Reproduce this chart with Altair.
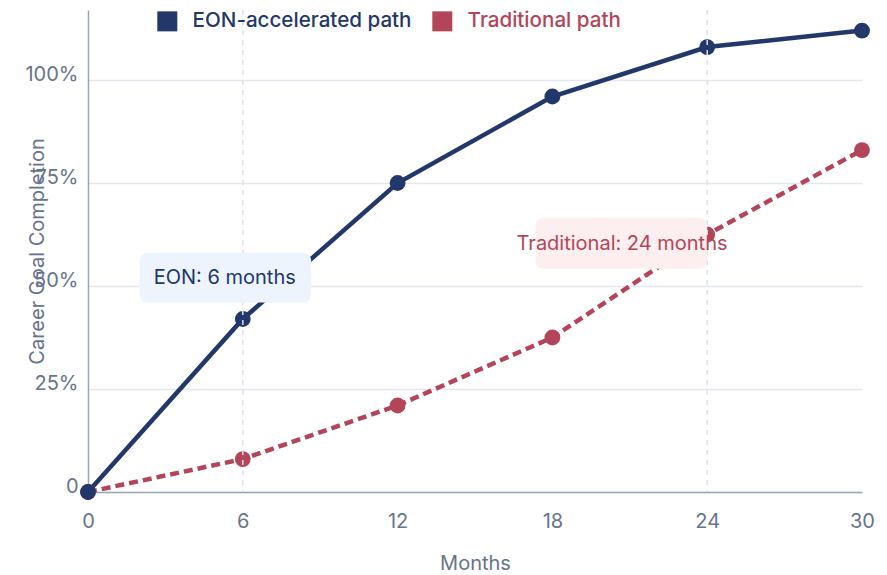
import altair as alt
import pandas as pd

months = [0, 6, 12, 18, 24, 30]
eon_values = [0.0, 0.42, 0.75, 0.96, 1.08, 1.12]
trad_values = [0.0, 0.08, 0.21, 0.375, 0.625, 0.83]
series_names = ["EON-accelerated path", "Traditional path"]
series_colors = ["#22376a", "#b3455a"]
x_ticks = [0, 6, 12, 18, 24, 30]
y_ticks = [0, 0.25, 0.5, 0.75, 1.0]
rule_months = [6, 24]

ann_labels = ["EON: 6 months", "Traditional: 24 months"]
ann_x = [5.3, 20.7]
ann_y = [0.52, 0.603]
box_x0 = [2.0, 17.35]
box_x1 = [8.65, 24.0]
box_y0 = [0.46, 0.542]
box_y1 = [0.581, 0.666]
box_fill = ["#edf4fd", "#fdefef"]
ann_color = ["#22376a", "#b3455a"]

NAVY, RED = series_colors
FS = 20

rows = []
for m, v in zip(months, trad_values):
    rows.append({"month": m, "value": v, "series": series_names[1]})
for m, v in zip(months, eon_values):
    rows.append({"month": m, "value": v, "series": series_names[0]})
df = pd.DataFrame(rows)

ann = pd.DataFrame({
    "label": ann_labels, "x": ann_x, "y": ann_y,
    "x0": box_x0, "x1": box_x1, "y0": box_y0, "y1": box_y1,
    "fill": box_fill, "color": ann_color,
})
rules = pd.DataFrame({"month": rule_months})

xs = alt.Scale(domain=[0, 30], nice=False, zero=False)
ys = alt.Scale(domain=[0, 1.17], nice=False)

x_enc = alt.X("month:Q", scale=xs, title="Months",
              axis=alt.Axis(values=x_ticks, grid=False, ticks=False, tickSize=0,
                            labelPadding=35, labelBaseline="alphabetic", labelFlush=False,
                            titleBaseline="alphabetic", titleY=77))
y_enc = alt.Y("value:Q", scale=ys, title="Career Goal Completion",
              axis=alt.Axis(values=y_ticks, ticks=False, tickSize=0,
                            labelPadding=10, labelBaseline="alphabetic",
                            labelExpr="datum.value == 0 ? '0' : format(datum.value, '.0%')",
                            titleX=-41, titleY=241, titleAlign="center",
                            titleBaseline="bottom", titleAngle=-90))

base = alt.Chart(df)

line_eon = base.transform_filter(alt.datum.series == series_names[0]).mark_line(
    color=NAVY, strokeWidth=4.5).encode(x=x_enc, y=y_enc)
line_trad = base.transform_filter(alt.datum.series == series_names[1]).mark_line(
    color=RED, strokeWidth=4.5, strokeDash=[9, 5]).encode(x=x_enc, y=y_enc)

points = base.mark_circle(size=250, opacity=1).encode(
    x=x_enc, y=y_enc,
    color=alt.Color("series:N",
                    scale=alt.Scale(domain=series_names, range=series_colors),
                    sort=series_names,
                    legend=alt.Legend(
                        title=None, orient="none", legendX=69, legendY=1,
                        direction="horizontal", symbolType="square",
                        symbolSize=400, symbolStrokeWidth=0, labelFontSize=20.6,
                        labelFontWeight=500,
                        labelOffset=15, columnPadding=20, padding=0, labelLimit=0,
                        labelColor=alt.ExprRef(
                            f"datum.label == '{series_names[1]}' ? '{RED}' : '{NAVY}'"),
                    )),
)

rule_layer = alt.Chart(rules).mark_rule(
    color="#dbe2ec", strokeWidth=1.5, strokeDash=[5, 5]).encode(x=alt.X("month:Q", scale=xs))

boxes = alt.Chart(ann).mark_rect(cornerRadius=8).encode(
    x=alt.X("x0:Q", scale=xs), x2="x1:Q",
    y=alt.Y("y0:Q", scale=ys), y2="y1:Q",
    fill=alt.Fill("fill:N", scale=None),
)
texts = alt.Chart(ann).mark_text(fontSize=FS, align="center", baseline="middle").encode(
    x=alt.X("x:Q", scale=xs), y=alt.Y("y:Q", scale=ys),
    text="label:N", color=alt.Color("color:N", scale=None),
)

chart = alt.layer(line_eon, line_trad, points, rule_layer, boxes, texts).properties(
    width=774, height=482,
    padding={"left": 80, "top": 2, "right": 17, "bottom": 81},
    autosize="none",
).configure(font="Inter").configure_view(stroke=None).configure_axis(
    domainColor="#9aa6bd", domainWidth=1.5,
    gridColor="#e3e8f0", gridWidth=1.5,
    labelColor="#66748c", labelFontSize=FS, labelFont="Inter",
    titleColor="#66748c", titleFontSize=FS, titleFontWeight="normal", titleFont="Inter",
)

chart.save("out.html", embed_options={"renderer": "svg", "actions": False})
